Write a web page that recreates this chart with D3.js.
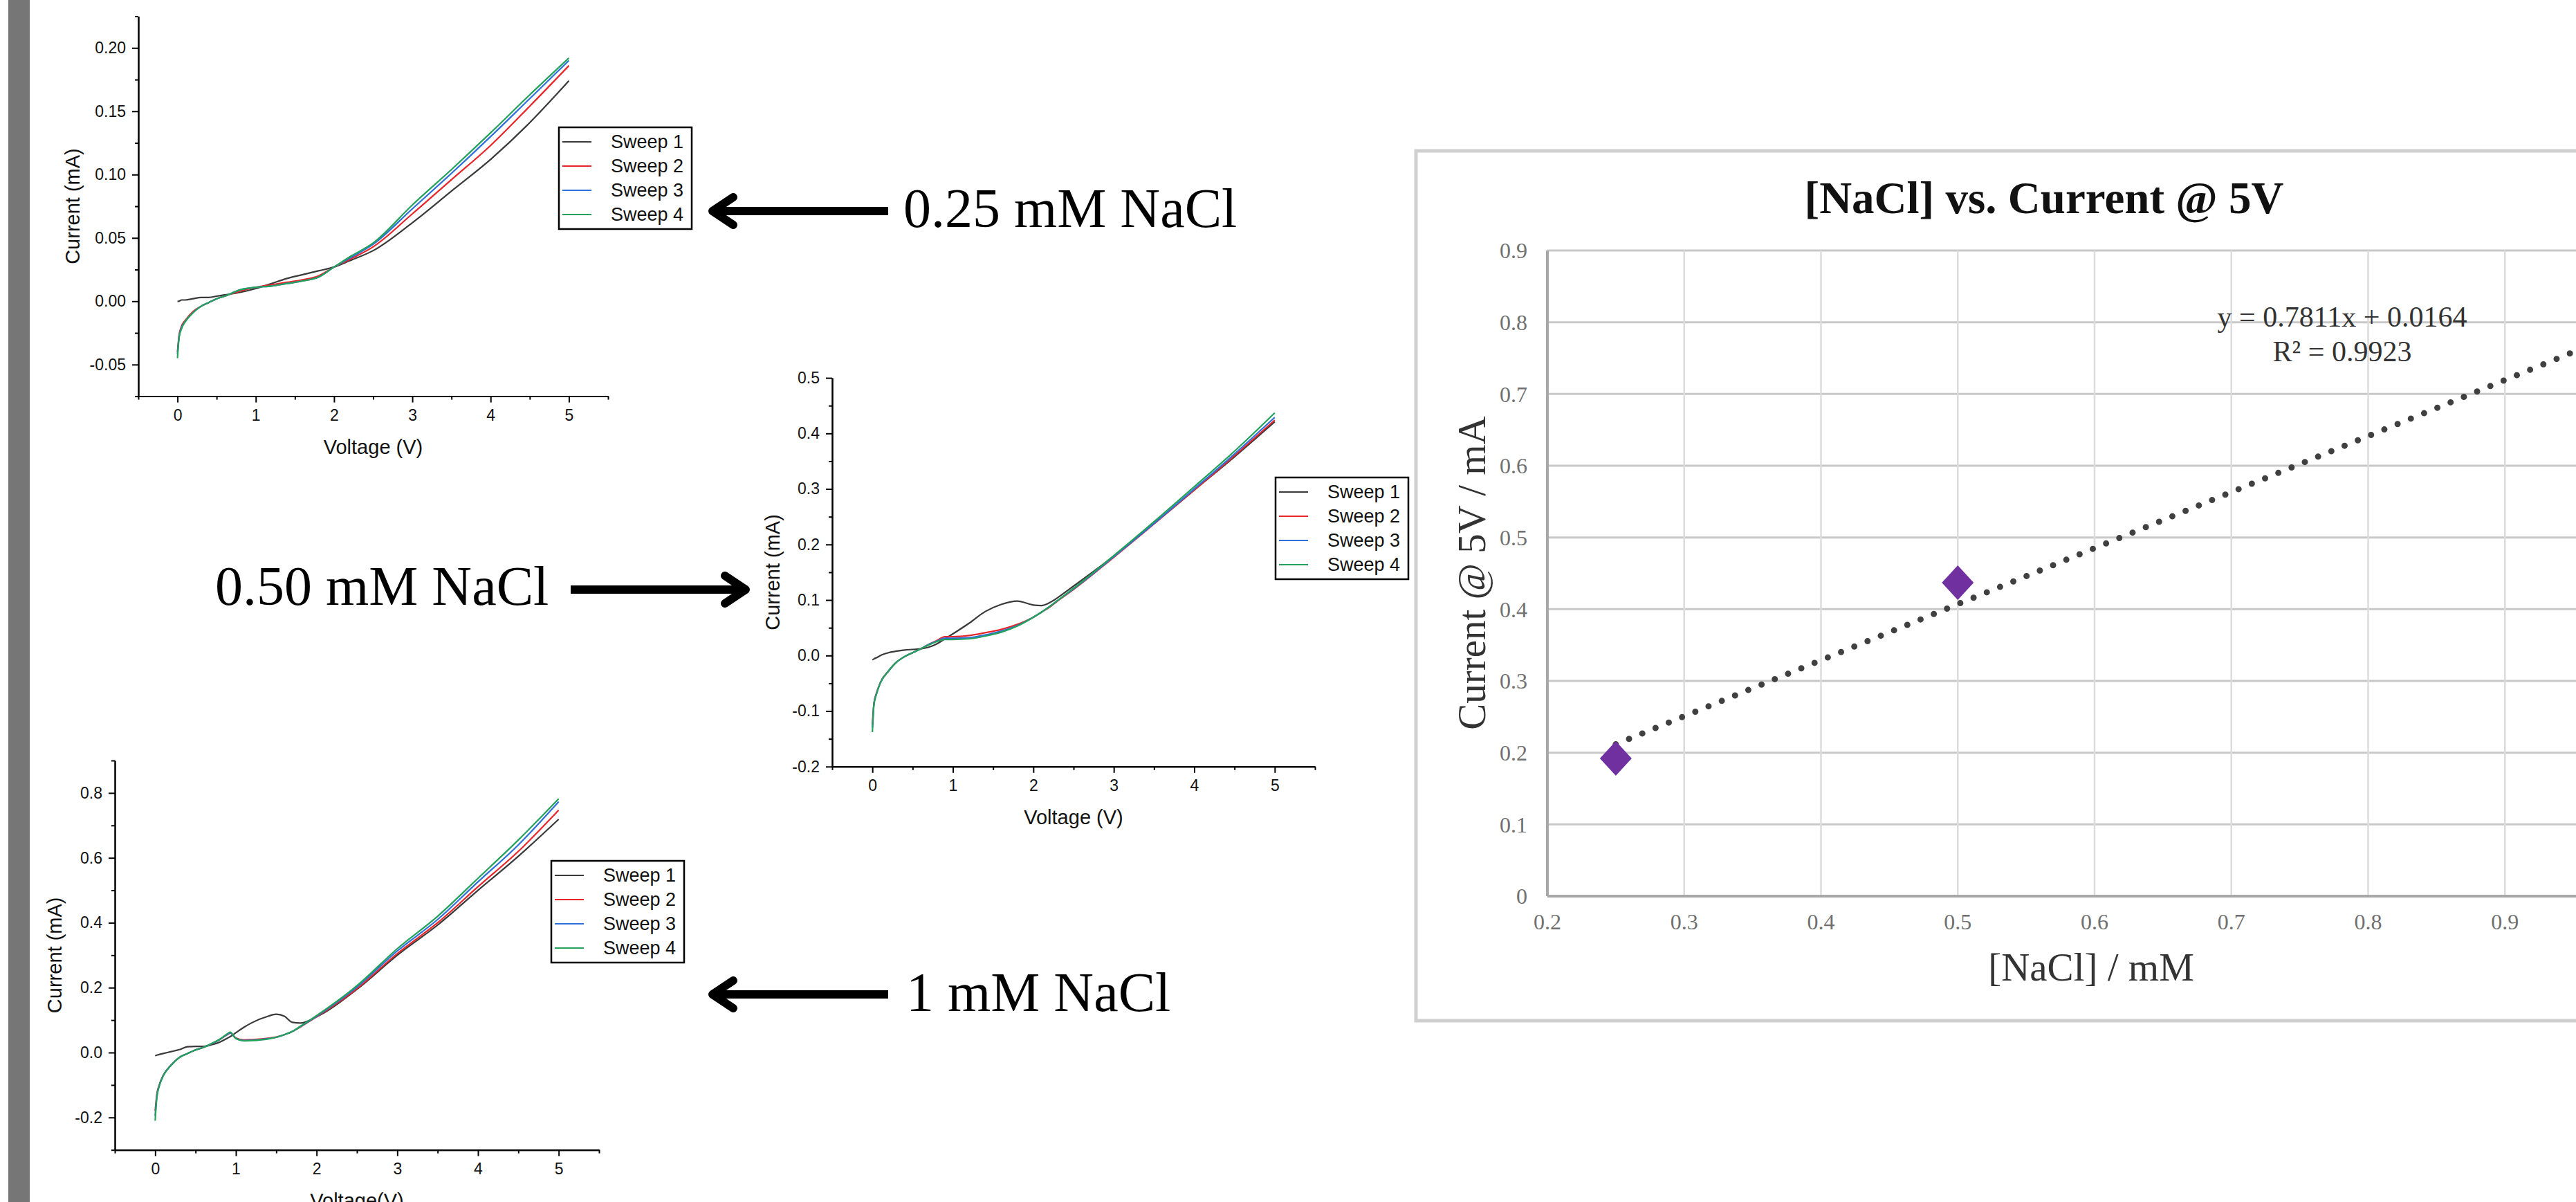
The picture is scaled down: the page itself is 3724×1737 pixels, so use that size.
<!DOCTYPE html>
<html>
<head>
<meta charset="utf-8">
<script src="https://cdn.jsdelivr.net/npm/d3@7"></script>
<style>
  body { margin: 0; background: #fff; }
  svg { display: block; }
</style>
</head>
<body>
<script>
let w = 3724;
let h = 1737;

// I-V sweeps, 0.25 mM NaCl
let volts025 = [0, 0.02, 0.05, 0.1, 0.2, 0.3, 0.4, 0.5, 0.6, 0.8, 1.0, 1.2, 1.4, 1.6, 1.8, 2.0, 2.2, 2.5, 3.0, 3.5, 4.0, 4.5, 5.0];
let sweep025_1 = [0.000, 0.000, 0.001, 0.001, 0.002, 0.003, 0.003, 0.004, 0.005, 0.007, 0.010, 0.014, 0.018, 0.021, 0.024, 0.027, 0.032, 0.040, 0.062, 0.087, 0.112, 0.141, 0.174];
let sweep025_2 = [-0.040, -0.027, -0.020, -0.015, -0.008, -0.004, -0.001, 0.002, 0.004, 0.008, 0.011, 0.013, 0.015, 0.017, 0.020, 0.027, 0.033, 0.043, 0.069, 0.096, 0.123, 0.154, 0.186];
let sweep025_3 = [-0.042, -0.028, -0.021, -0.016, -0.009, -0.004, -0.001, 0.002, 0.004, 0.009, 0.011, 0.012, 0.014, 0.016, 0.019, 0.027, 0.034, 0.045, 0.073, 0.101, 0.130, 0.160, 0.190];
let sweep025_4 = [-0.045, -0.029, -0.022, -0.016, -0.009, -0.004, -0.001, 0.002, 0.004, 0.009, 0.011, 0.012, 0.014, 0.016, 0.019, 0.027, 0.035, 0.046, 0.076, 0.104, 0.133, 0.163, 0.192];

// I-V sweeps, 0.50 mM NaCl
let volts050 = [0, 0.02, 0.05, 0.1, 0.2, 0.3, 0.4, 0.5, 0.6, 0.7, 0.8, 0.9, 1.0, 1.2, 1.4, 1.6, 1.8, 2.0, 2.1, 2.2, 2.3, 2.5, 3.0, 3.5, 4.0, 4.5, 5.0];
let sweep050_1 = [-0.008, -0.006, -0.004, 0.000, 0.005, 0.008, 0.010, 0.011, 0.012, 0.015, 0.021, 0.030, 0.039, 0.058, 0.079, 0.092, 0.098, 0.091, 0.090, 0.095, 0.104, 0.125, 0.179, 0.238, 0.298, 0.358, 0.421];
let sweep050_2 = [-0.125, -0.085, -0.068, -0.048, -0.028, -0.012, -0.002, 0.005, 0.012, 0.020, 0.027, 0.034, 0.034, 0.036, 0.041, 0.047, 0.056, 0.069, 0.078, 0.087, 0.098, 0.119, 0.177, 0.237, 0.298, 0.360, 0.424];
let sweep050_3 = [-0.130, -0.087, -0.069, -0.049, -0.028, -0.012, -0.002, 0.005, 0.012, 0.020, 0.026, 0.031, 0.031, 0.032, 0.037, 0.044, 0.054, 0.069, 0.078, 0.088, 0.099, 0.120, 0.178, 0.238, 0.300, 0.363, 0.429];
let sweep050_4 = [-0.138, -0.088, -0.070, -0.049, -0.028, -0.012, -0.002, 0.005, 0.012, 0.019, 0.025, 0.029, 0.029, 0.030, 0.035, 0.042, 0.053, 0.069, 0.078, 0.088, 0.099, 0.121, 0.180, 0.241, 0.304, 0.368, 0.437];

// I-V sweeps, 1 mM NaCl
let volts100 = [0, 0.02, 0.05, 0.1, 0.2, 0.3, 0.4, 0.5, 0.6, 0.7, 0.8, 0.9, 0.93, 1.0, 1.1, 1.2, 1.4, 1.5, 1.6, 1.7, 1.8, 2.0, 2.5, 3.0, 3.5, 4.0, 4.5, 5.0];
let sweep100_1 = [-0.010, -0.008, -0.006, -0.003, 0.003, 0.009, 0.018, 0.019, 0.019, 0.024, 0.032, 0.045, 0.049, 0.061, 0.078, 0.092, 0.112, 0.118, 0.112, 0.093, 0.091, 0.110, 0.195, 0.300, 0.393, 0.500, 0.605, 0.719];
let sweep100_2 = [-0.180, -0.130, -0.100, -0.070, -0.038, -0.015, -0.003, 0.008, 0.016, 0.027, 0.040, 0.056, 0.060, 0.045, 0.039, 0.040, 0.044, 0.048, 0.055, 0.065, 0.079, 0.110, 0.197, 0.305, 0.400, 0.511, 0.620, 0.747];
let sweep100_3 = [-0.195, -0.135, -0.102, -0.071, -0.038, -0.015, -0.003, 0.008, 0.016, 0.027, 0.040, 0.057, 0.061, 0.043, 0.037, 0.038, 0.043, 0.047, 0.055, 0.065, 0.080, 0.112, 0.202, 0.313, 0.410, 0.526, 0.640, 0.773];
let sweep100_4 = [-0.210, -0.140, -0.104, -0.072, -0.039, -0.015, -0.003, 0.008, 0.016, 0.028, 0.041, 0.059, 0.063, 0.043, 0.036, 0.037, 0.042, 0.047, 0.055, 0.065, 0.081, 0.114, 0.206, 0.320, 0.420, 0.537, 0.655, 0.782];

let sweepNames = ["Sweep 1", "Sweep 2", "Sweep 3", "Sweep 4"];
let sweepColors = ["#3a3a3a", "#e8262a", "#2f6fdc", "#22a25a"];
let voltTicks = [0, 1, 2, 3, 4, 5];

// current at 5 V vs concentration
let nacl = [0.25, 0.5, 1.0];
let current5V = [0.192, 0.437, 0.787];
let fitSlope = 0.7811;
let fitIntercept = 0.0164;
let naclTicks = [0.2, 0.3, 0.4, 0.5, 0.6, 0.7, 0.8, 0.9, 1.0];
let currentTicks = [0, 0.1, 0.2, 0.3, 0.4, 0.5, 0.6, 0.7, 0.8, 0.9];

let sans = "'Liberation Sans', Arial, sans-serif";
let serif = "'Liberation Serif', 'Times New Roman', serif";

let svg = d3.select("body")
            .append("svg")
            .attr("width", w)
            .attr("height", h);

// grey slide edge
svg.append("rect")
   .attr("x", 12).attr("y", 0)
   .attr("width", 31).attr("height", h)
   .attr("fill", "#767676");

let panels = [
  { volts: volts025, sweeps: [sweep025_1, sweep025_2, sweep025_3, sweep025_4],
    yMin: -0.075, yMax: 0.225, yStep: 0.05, dec: 2,
    left: 200, right: 879, top: 23.5, bottom: 572.6,
    legendX: 808, legendY: 184, xTitle: "Voltage (V)", yTitleX: 115 },
  { volts: volts050, sweeps: [sweep050_1, sweep050_2, sweep050_3, sweep050_4],
    yMin: -0.2, yMax: 0.5, yStep: 0.1, dec: 1,
    left: 1203, right: 1901, top: 546.1, bottom: 1107.8,
    legendX: 1844, legendY: 690, xTitle: "Voltage (V)", yTitleX: 1127 },
  { volts: volts100, sweeps: [sweep100_1, sweep100_2, sweep100_3, sweep100_4],
    yMin: -0.3, yMax: 0.9, yStep: 0.2, dec: 1,
    left: 166, right: 866, top: 1099, bottom: 1661.7,
    legendX: 797, legendY: 1244, xTitle: "Voltage(V)", yTitleX: 89 }
];

function steps(lo, hi, step) {
  let out = [];
  for (let i = Math.ceil(lo / step - 1e-9); i <= Math.floor(hi / step + 1e-9); i++) {
    out.push(+(i * step).toFixed(6));
  }
  return out;
}

function styleAxis(g) {
  g.selectAll(".domain").attr("stroke", "#000").attr("stroke-width", 2);
  g.selectAll(".tick line").attr("stroke", "#000").attr("stroke-width", 2);
  g.selectAll("text")
   .attr("font-family", sans)
   .attr("font-size", 23)
   .attr("fill", "#111");
}

panels.forEach(function(p) {
  let g = svg.append("g");
  let x = d3.scaleLinear().domain([-0.5, 5.5]).range([p.left, p.right]);
  let y = d3.scaleLinear().domain([p.yMin, p.yMax]).range([p.bottom, p.top]);

  let majorY = steps(p.yMin, p.yMax, p.yStep);
  let minorY = steps(p.yMin, p.yMax, p.yStep / 2)
                 .filter(function(v) { return !majorY.some(function(m) { return Math.abs(m - v) < 1e-6; }); });
  let minorX = steps(-0.5, 5.5, 0.5).filter(function(v) { return v % 1 !== 0; });

  // minor ticks
  g.append("g")
   .attr("transform", "translate(0," + p.bottom + ")")
   .call(d3.axisBottom(x).tickValues(minorX).tickSize(5).tickSizeOuter(0).tickFormat(""))
   .call(styleAxis);
  g.append("g")
   .attr("transform", "translate(" + p.left + ",0)")
   .call(d3.axisLeft(y).tickValues(minorY).tickSize(5).tickSizeOuter(0).tickFormat(""))
   .call(styleAxis);

  // major ticks and labels
  g.append("g")
   .attr("transform", "translate(0," + p.bottom + ")")
   .call(d3.axisBottom(x).tickValues(voltTicks).tickSize(9).tickSizeOuter(0).tickPadding(10)
           .tickFormat(function(d) { return d; }))
   .call(styleAxis);
  g.append("g")
   .attr("transform", "translate(" + p.left + ",0)")
   .call(d3.axisLeft(y).tickValues(majorY).tickSize(9).tickSizeOuter(0).tickPadding(9)
           .tickFormat(function(d) { return d.toFixed(p.dec); }))
   .call(styleAxis);

  // sweeps
  let line = d3.line()
               .x(function(d) { return x(d[0]); })
               .y(function(d) { return y(d[1]); })
               .curve(d3.curveMonotoneX);
  p.sweeps.forEach(function(s, i) {
    g.append("path")
     .datum(p.volts.map(function(v, k) { return [v, s[k]]; }))
     .attr("d", line)
     .attr("fill", "none")
     .attr("stroke", sweepColors[i])
     .attr("stroke-width", 2.2);
  });

  // axis titles
  g.append("text")
   .attr("x", (p.left + p.right) / 2)
   .attr("y", p.bottom + 83)
   .attr("text-anchor", "middle")
   .attr("font-family", sans)
   .attr("font-size", 29)
   .attr("fill", "#111")
   .text(p.xTitle);
  g.append("text")
   .attr("transform", "translate(" + p.yTitleX + "," + (p.top + p.bottom) / 2 + ") rotate(-90)")
   .attr("text-anchor", "middle")
   .attr("font-family", sans)
   .attr("font-size", 29)
   .attr("fill", "#111")
   .text("Current (mA)");

  // legend
  let lg = g.append("g").attr("transform", "translate(" + p.legendX + "," + p.legendY + ")");
  lg.append("rect")
    .attr("width", 192).attr("height", 147)
    .attr("fill", "#fff")
    .attr("stroke", "#000")
    .attr("stroke-width", 2.5);
  sweepNames.forEach(function(name, i) {
    let ry = 21 + i * 35;
    lg.append("line")
      .attr("x1", 5).attr("x2", 47)
      .attr("y1", ry).attr("y2", ry)
      .attr("stroke", sweepColors[i])
      .attr("stroke-width", 2.2);
    lg.append("text")
      .attr("x", 75).attr("y", ry)
      .attr("dy", "0.35em")
      .attr("font-family", sans)
      .attr("font-size", 27)
      .attr("fill", "#111")
      .text(name);
  });
});

// arrows with concentration labels
let notes = [
  { label: "0.25 mM NaCl", tail: 1284, tip: 1030, y: 305, tx: 1306, ty: 328 },
  { label: "0.50 mM NaCl", tail: 825, tip: 1078, y: 852, tx: 311, ty: 874 },
  { label: "1 mM NaCl", tail: 1284, tip: 1030, y: 1437, tx: 1310, ty: 1461 }
];
notes.forEach(function(n) {
  let dir = n.tip < n.tail ? 1 : -1;
  svg.append("line")
     .attr("x1", n.tail).attr("x2", n.tip + dir * 4)
     .attr("y1", n.y).attr("y2", n.y)
     .attr("stroke", "#000")
     .attr("stroke-width", 12);
  svg.append("path")
     .attr("d", "M" + (n.tip + dir * 30) + "," + (n.y - 20) +
                "L" + n.tip + "," + n.y +
                "L" + (n.tip + dir * 30) + "," + (n.y + 20))
     .attr("fill", "none")
     .attr("stroke", "#000")
     .attr("stroke-width", 12)
     .attr("stroke-linecap", "round")
     .attr("stroke-linejoin", "round");
  svg.append("text")
     .attr("x", n.tx).attr("y", n.ty)
     .attr("font-family", serif)
     .attr("font-size", 80)
     .attr("fill", "#000")
     .text(n.label);
});

// [NaCl] vs current chart (its right part runs past the page edge)
let fx = d3.scaleLinear().domain([0.2, 1.0]).range([2237, 3819]);
let fy = d3.scaleLinear().domain([0, 0.9]).range([1295, 362]);
let rc = svg.append("g");

rc.append("rect")
  .attr("x", 2047).attr("y", 218)
  .attr("width", 1900).attr("height", 1257)
  .attr("fill", "#fff")
  .attr("stroke", "#cfcfcf")
  .attr("stroke-width", 5);

rc.selectAll(".hgrid")
  .data(currentTicks.slice(1))
  .enter()
  .append("line")
  .attr("x1", fx(0.2)).attr("x2", fx(1.0))
  .attr("y1", function(d) { return fy(d); })
  .attr("y2", function(d) { return fy(d); })
  .attr("stroke", "#c8c8c8")
  .attr("stroke-width", 3);
rc.selectAll(".vgrid")
  .data(naclTicks.slice(1))
  .enter()
  .append("line")
  .attr("x1", function(d) { return fx(d); })
  .attr("x2", function(d) { return fx(d); })
  .attr("y1", fy(0)).attr("y2", fy(0.9))
  .attr("stroke", "#dcdcdc")
  .attr("stroke-width", 2.5);

rc.append("line")
  .attr("x1", fx(0.2)).attr("x2", fx(0.2))
  .attr("y1", fy(0)).attr("y2", fy(0.9))
  .attr("stroke", "#a8a8a8").attr("stroke-width", 4);
rc.append("line")
  .attr("x1", fx(0.2)).attr("x2", fx(1.0))
  .attr("y1", fy(0)).attr("y2", fy(0))
  .attr("stroke", "#a8a8a8").attr("stroke-width", 4);

rc.selectAll(".ylab")
  .data(currentTicks)
  .enter()
  .append("text")
  .attr("x", 2208)
  .attr("y", function(d) { return fy(d); })
  .attr("dy", "0.35em")
  .attr("text-anchor", "end")
  .attr("font-family", serif)
  .attr("font-size", 32)
  .attr("fill", "#707070")
  .text(function(d) { return d === 0 ? "0" : d.toFixed(1); });
rc.selectAll(".xlab")
  .data(naclTicks.filter(function(d) { return fx(d) + 20 < w; }))
  .enter()
  .append("text")
  .attr("x", function(d) { return fx(d); })
  .attr("y", 1343)
  .attr("text-anchor", "middle")
  .attr("font-family", serif)
  .attr("font-size", 32)
  .attr("fill", "#707070")
  .text(function(d) { return d.toFixed(1); });

// trendline
let fit = function(c) { return fitSlope * c + fitIntercept; };
rc.append("line")
  .attr("x1", fx(nacl[0])).attr("y1", fy(fit(nacl[0])))
  .attr("x2", fx(nacl[nacl.length - 1])).attr("y2", fy(fit(nacl[nacl.length - 1])))
  .attr("stroke", "#404040")
  .attr("stroke-width", 9)
  .attr("stroke-linecap", "round")
  .attr("stroke-dasharray", "0 20.7");

// points
rc.selectAll(".pt")
  .data(nacl)
  .enter()
  .append("path")
  .attr("transform", function(d, i) { return "translate(" + fx(d) + "," + fy(current5V[i]) + ")"; })
  .attr("d", "M0,-25L23,0L0,25L-23,0Z")
  .attr("fill", "#7030a0");

rc.append("text")
  .attr("x", 3386).attr("y", 472)
  .attr("text-anchor", "middle")
  .attr("font-family", serif)
  .attr("font-size", 42)
  .attr("fill", "#333")
  .text("y = " + fitSlope + "x  + " + fitIntercept);
rc.append("text")
  .attr("x", 3386).attr("y", 522)
  .attr("text-anchor", "middle")
  .attr("font-family", serif)
  .attr("font-size", 42)
  .attr("fill", "#333")
  .text("R² = 0.9923");

rc.append("text")
  .attr("x", 2955).attr("y", 308)
  .attr("text-anchor", "middle")
  .attr("font-family", serif)
  .attr("font-weight", "bold")
  .attr("font-size", 65)
  .attr("fill", "#111")
  .text("[NaCl] vs. Current @ 5V");
rc.append("text")
  .attr("x", (fx(0.2) + fx(1.0)) / 2 - 5).attr("y", 1417)
  .attr("text-anchor", "middle")
  .attr("font-family", serif)
  .attr("font-size", 57)
  .attr("fill", "#333")
  .text("[NaCl] / mM");
rc.append("text")
  .attr("transform", "translate(2147," + 828 + ") rotate(-90)")
  .attr("text-anchor", "middle")
  .attr("font-family", serif)
  .attr("font-size", 57)
  .attr("fill", "#333")
  .text("Current @ 5V / mA");
</script>
</body>
</html>
